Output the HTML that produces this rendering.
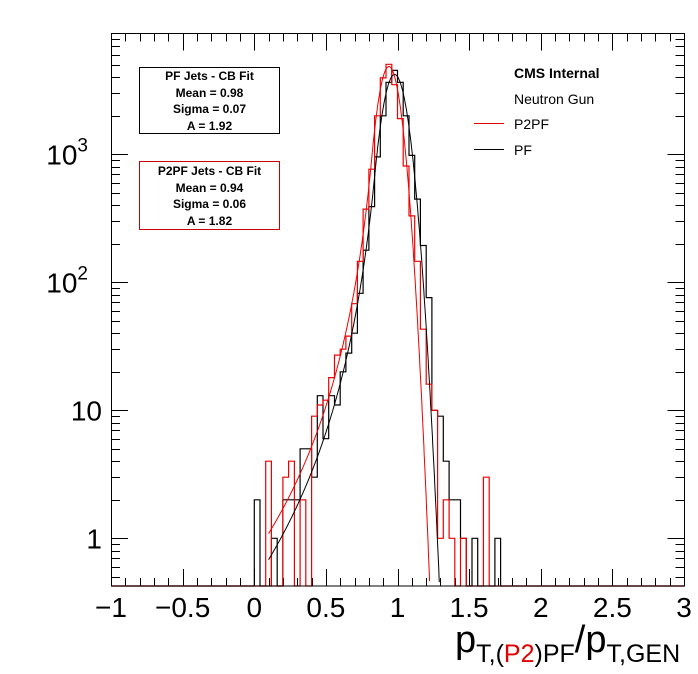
<!DOCTYPE html>
<html><head><meta charset="utf-8"><style>
html,body{margin:0;padding:0;background:#fff;}
svg{display:block;font-family:"Liberation Sans",sans-serif;}
</style></head><body>
<svg id="chart" width="698" height="674" viewBox="0 0 698 674" xmlns="http://www.w3.org/2000/svg">
<rect x="0" y="0" width="698" height="674" fill="#fff"/>
<g id="axes"></g>
<g id="marks"></g>
<rect x="111.5" y="33.5" width="573" height="552.5" fill="none" stroke="#000" stroke-width="1"/>
<g>
<rect x="139.5" y="67.5" width="140" height="66" fill="#fff" stroke="#000"/>
<text x="209.5" y="80" font-size="12" font-weight="bold" text-anchor="middle">PF Jets - CB Fit</text>
<text x="209.5" y="97" font-size="12" font-weight="bold" text-anchor="middle">Mean = 0.98</text>
<text x="209.5" y="113" font-size="12" font-weight="bold" text-anchor="middle">Sigma = 0.07</text>
<text x="209.5" y="130" font-size="12" font-weight="bold" text-anchor="middle">A = 1.92</text>
</g>
<g>
<rect x="139.5" y="161.5" width="140" height="68" fill="#fff" stroke="#c00"/>
<text x="209.5" y="175" font-size="12" font-weight="bold" text-anchor="middle">P2PF Jets - CB Fit</text>
<text x="209.5" y="192" font-size="12" font-weight="bold" text-anchor="middle">Mean = 0.94</text>
<text x="209.5" y="208" font-size="12" font-weight="bold" text-anchor="middle">Sigma = 0.06</text>
<text x="209.5" y="225" font-size="12" font-weight="bold" text-anchor="middle">A = 1.82</text>
</g>
<g>
<text x="514" y="78" font-size="14" font-weight="bold">CMS Internal</text>
<text x="514" y="104" font-size="14">Neutron Gun</text>
<line x1="474" y1="123.5" x2="504" y2="123.5" stroke="#e00000"/>
<text x="514" y="129" font-size="14">P2PF</text>
<line x1="474" y1="149.5" x2="504" y2="149.5" stroke="#000"/>
<text x="514" y="155" font-size="14">PF</text>
</g>
<text x="455" y="652" font-size="38">p<tspan font-size="25" dy="10">T,(</tspan><tspan font-size="25" fill="#e00000">P2</tspan><tspan font-size="25">)PF</tspan><tspan dy="-10">/p</tspan><tspan font-size="25" dy="10">T,GEN</tspan></text>
</svg>
<script>
const binLow = -1, binWidth = 0.04;
const pfBinStarts = [0.00,0.12,0.20,0.24,0.28,0.32,0.36,0.40,0.44,0.48,0.52,0.56,0.60,0.64,0.68,0.72,0.76,0.80,0.84,0.88,0.92,0.96,1.00,1.04,1.08,1.12,1.16,1.20,1.24,1.28,1.32,1.36,1.40,1.44,1.52,1.68];
const pfCounts   = [2,1,2,2,2,5,5,3,13,6,13,11,20,28,40,82,178,390,955,2000,3650,4520,3650,2000,980,447,194,76,10,9,4,2,2,1,1,1];
const p2pfBinStarts = [0.08,0.20,0.24,0.32,0.40,0.44,0.48,0.52,0.56,0.60,0.64,0.68,0.72,0.76,0.80,0.84,0.88,0.92,0.96,1.00,1.04,1.08,1.12,1.16,1.20,1.24,1.28,1.32,1.36,1.44,1.60];
const p2pfCounts   = [4,3,4,2,9,11,12,18,27,30,38,68,146,373,765,2000,3950,5050,3500,1900,810,330,146,43,16,10,1,2,1,1,3];
const pfFit = {norm:4200, mean:0.98, sigma:0.073, alpha:1.92, n:3.8};
const p2pfFit = {norm:4850, mean:0.94, sigma:0.066, alpha:1.82, n:3.6};
const xTicks = [-1,-0.5,0,0.5,1,1.5,2,2.5,3];
const xTickLabels = ["\u22121","\u22120.5","0","0.5","1","1.5","2","2.5","3"];
const yTicks = [1,10,100,1000];

const X0=111, X1=684, Y0=33.3, Y1=586;
const xMin=-1, xMax=3, logMax=3.945, logMin=-0.373;
function xs(v){return X0+(v-xMin)/(xMax-xMin)*(X1-X0);}
function ys(v){ if(v<=0) return Y1; const l=Math.log10(v); return Math.min(Y1, 538.3-128*l);}
const NS="http://www.w3.org/2000/svg";
function mk(tag,attrs,parent){const e=document.createElementNS(NS,tag);for(const k in attrs)e.setAttribute(k,attrs[k]);parent.appendChild(e);return e;}
const axes=document.getElementById('axes'), marks=document.getElementById('marks');

for(let i=0;i<=40;i++){
  const v=xMin+i*0.1, x=Math.round(xs(v))+0.5, major=(i%5===0);
  const L=major?17:8;
  const t=mk('line',{x1:x,y1:Y1,x2:x,y2:Y1-L,stroke:'#000'},axes);
  
  
  const t2=mk('line',{x1:x,y1:33.5,x2:x,y2:33.5+L,stroke:'#000'},axes);
  
  
}
xTicks.forEach((v,i)=>{
  const tx=mk('text',{x:xs(v),y:617,'font-size':28,'text-anchor':'middle'},axes);
  tx.textContent=xTickLabels[i];
  
  
});
for(let d=-1; d<=3; d++){
  for(let m=1;m<=9;m++){
    const v=m*Math.pow(10,d), l=Math.log10(v);
    if(l<logMin||l>logMax) continue;
    const y=Math.round(538.3-128*l)+0.5, L=(m===1)?17:9;
    const t=mk('line',{x1:X0,y1:y,x2:X0+L,y2:y,stroke:'#000'},axes);
    
    
    const t2=mk('line',{x1:684.5,y1:y,x2:684.5-L,y2:y,stroke:'#000'},axes);
    
    
  }
}
yTicks.forEach(v=>{
  const y=ys(v)+10;
  const tx=mk('text',{x:102,y:y,'font-size':28,'text-anchor':'end'},axes);
  if(v===1) tx.textContent='1';
  else if(v===10) tx.textContent='10';
  else { tx.textContent='10'; const s=mk('tspan',{dy:-13,'font-size':19},tx); s.textContent=String(Math.round(Math.log10(v))); tx.setAttribute('x',88); }
  
  
});

function histPath(starts,counts){
  const nb=Math.round((xMax-xMin)/binWidth);
  const vals=new Array(nb).fill(0);
  starts.forEach((s,i)=>{const k=Math.round((s-binLow)/binWidth); if(k>=0&&k<nb) vals[k]=counts[i];});
  let d='M'+xs(xMin)+','+ys(vals[0]);
  for(let k=0;k<nb;k++){
    const xl=xs(binLow+k*binWidth), xr=xs(binLow+(k+1)*binWidth), y=ys(vals[k]);
    d+=' L'+xl.toFixed(1)+','+y.toFixed(1)+' L'+xr.toFixed(1)+','+y.toFixed(1);
  }
  return d;
}
function cb(x,p){
  const t=(x-p.mean)/p.sigma;
  if(t>-p.alpha) return p.norm*Math.exp(-t*t/2);
  const A=Math.pow(p.n/p.alpha,p.n)*Math.exp(-p.alpha*p.alpha/2), B=p.n/p.alpha-p.alpha;
  return p.norm*A*Math.pow(B-t,-p.n);
}
function fitPath(p){
  let d='', started=false;
  for(let i=0;i<=700;i++){
    const x=0.1+i*0.002, v=cb(x,p);
    if(v<Math.pow(10,logMin)) { if(x>p.mean) break; else continue; }
    d+=(started?' L':'M')+xs(x).toFixed(1)+','+ys(v).toFixed(1); started=true;
  }
  return d;
}
const hb=mk('path',{d:histPath(pfBinStarts,pfCounts),fill:'none',stroke:'#000','stroke-width':1.2},marks);


const hr=mk('path',{d:histPath(p2pfBinStarts,p2pfCounts),fill:'none',stroke:'#ee0000','stroke-width':1.2},marks);


const fb=mk('path',{d:fitPath(pfFit),fill:'none',stroke:'#000','stroke-width':1},marks);


const fr=mk('path',{d:fitPath(p2pfFit),fill:'none',stroke:'#ee0000','stroke-width':1},marks);


</script>
</body></html>
